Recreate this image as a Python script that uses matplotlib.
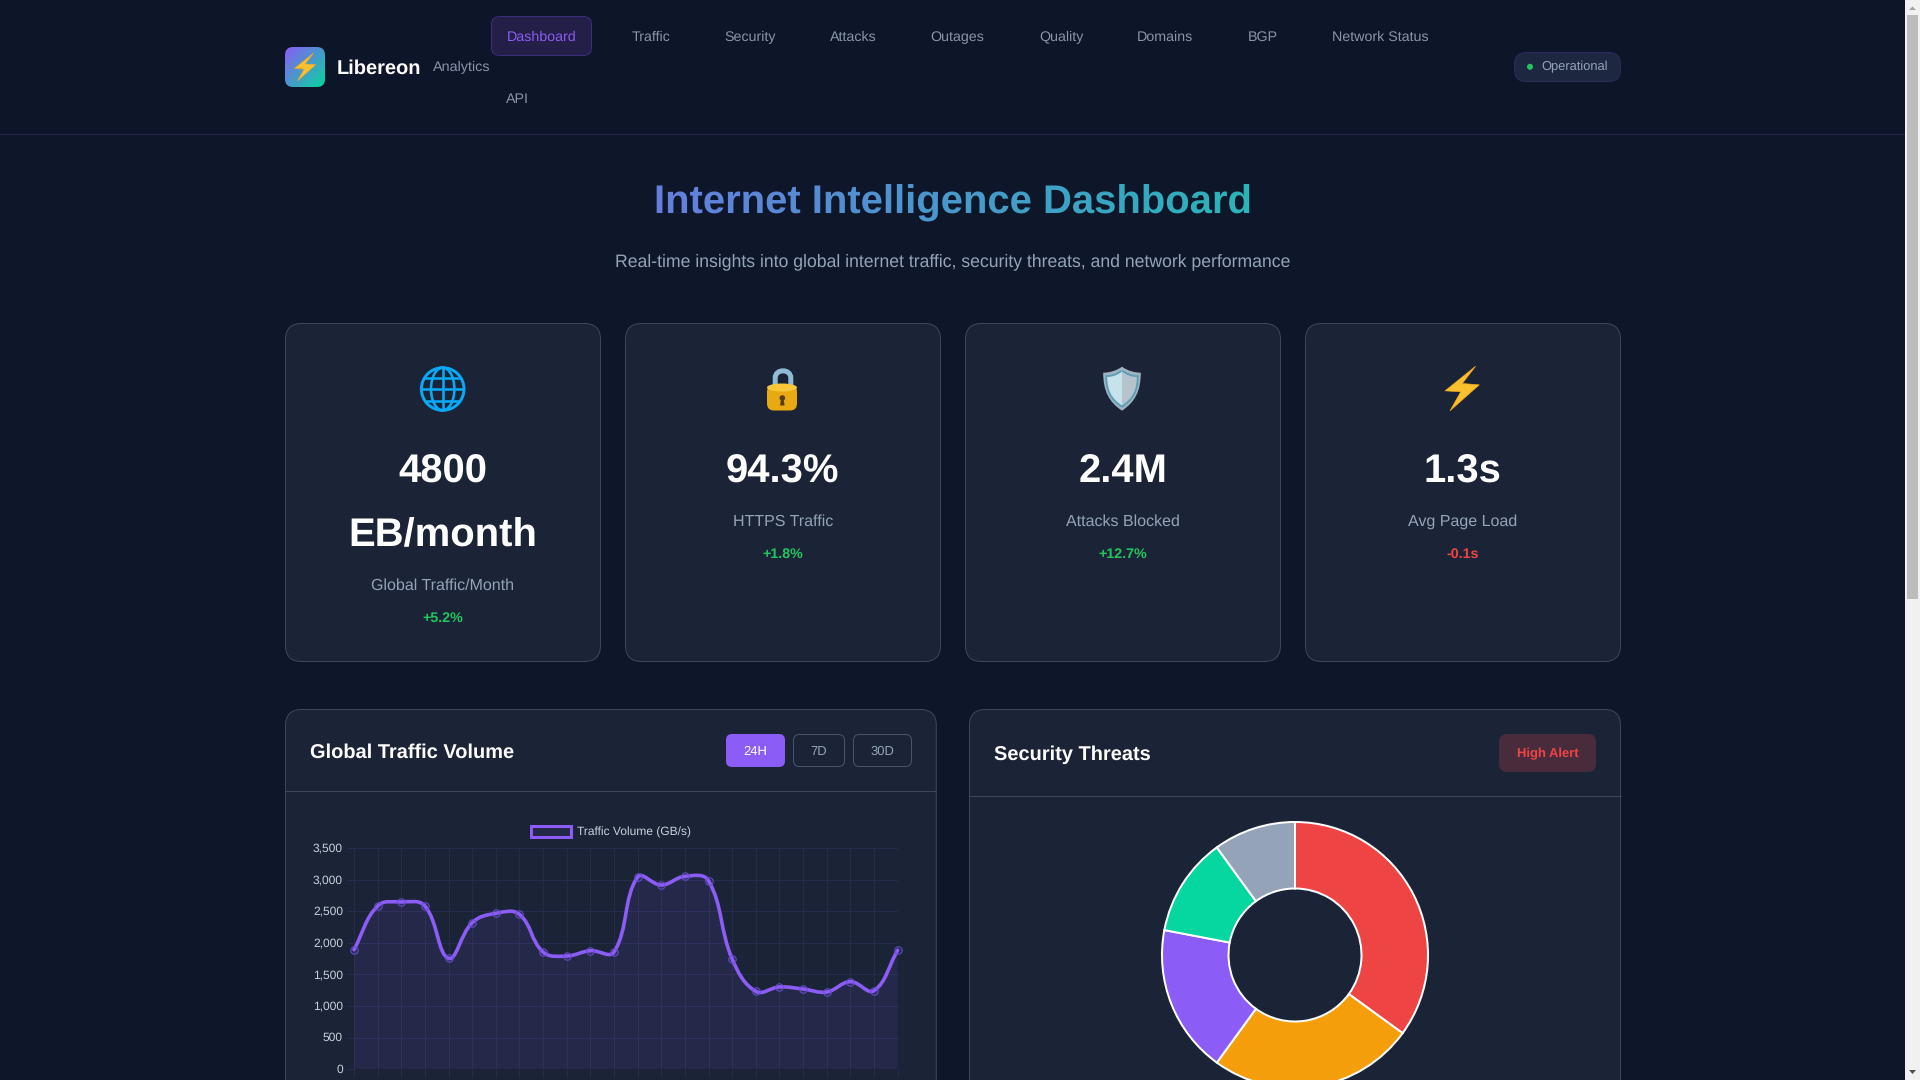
import numpy as np
import matplotlib
matplotlib.use("Agg")
import matplotlib.pyplot as plt
from matplotlib.patches import FancyBboxPatch, Rectangle, Circle, Ellipse, Polygon, PathPatch, Patch
from matplotlib.path import Path
from matplotlib.ticker import FuncFormatter
from matplotlib.transforms import ScaledTranslation

plt.rcParams['font.family'] = ['Liberation Sans', 'DejaVu Sans']
plt.rcParams['text.hinting'] = 'no_hinting'
plt.rcParams['text.hinting_factor'] = 8

# ---------- data ----------
nav_labels = ["Dashboard", "Traffic", "Security", "Attacks", "Outages", "Quality",
              "Domains", "BGP", "Network Status"]
kpi_values = ["4800\nEB/month", "94.3%", "2.4M", "1.3s"]
kpi_labels = ["Global Traffic/Month", "HTTPS Traffic", "Attacks Blocked", "Avg Page Load"]
kpi_deltas = ["+5.2%", "+1.8%", "+12.7%", "-0.1s"]
range_buttons = ["24H", "7D", "30D"]
traffic_values = [1892, 2583, 2646, 2583, 1755, 2319, 2467, 2451, 1855, 1792, 1876, 1855,
                  3041, 2915, 3052, 2983, 1745, 1233, 1302, 1270, 1223, 1386, 1244, 1882]
y_ticks = [0, 500, 1000, 1500, 2000, 2500, 3000, 3500]
threat_values = [35, 25, 18, 12, 10]
threat_colors = ["#ef4444", "#f59e0b", "#8b5cf6", "#06d6a0", "#94a3b8"]

# ---------- colours ----------
PAGE = "#0e172a"
HEADER = "#0d1629"
CARD = "#1a2436"
BORDER = "#3a485c"
MUTED = "#94a3b8"
NAV = "#8a94a8"
PURPLE = "#8b5cf6"
GRID = "#282a4c"

fig = plt.figure(figsize=(19.2, 10.8), dpi=100, facecolor=PAGE)
ui = fig.add_axes([0, 0, 1, 1], zorder=0)
ui.set_xlim(0, 1920)
ui.set_ylim(1080, 0)
ui.axis("off")


def px(v):
    return v * 0.72


def text(x, y, s, size, color, ha="center", weight="normal", **kw):
    """y is the visual centre of the capitals; baseline placed from it."""
    return ui.text(x, y + 0.35 * size, s, fontsize=px(size), color=color, ha=ha,
                   va="baseline", fontweight=weight, **kw)


def rbox(x0, y0, x1, y1, r, fc, ec="none", lw=1.0, z=1):
    p = FancyBboxPatch((x0 + r, y0 + r), x1 - x0 - 2 * r, y1 - y0 - 2 * r,
                       boxstyle=f"round,pad={r},rounding_size={r}",
                       fc=fc, ec=ec, lw=px(lw), zorder=z)
    ui.add_patch(p)
    return p


# ---------- header ----------
ui.add_patch(Rectangle((0, 0), 1920, 134, fc=HEADER, ec="none", zorder=0))
ui.plot([0, 1905], [133.6, 133.6], color="#262447", lw=px(1), zorder=1)

logo = rbox(285, 47, 325, 87, 8, "none")
grad = np.linspace(0, 1, 64)
gx, gy = np.meshgrid(grad, grad)
t = (gx + gy) / 2
c0, c1 = np.array([0x8b, 0x5c, 0xf6]) / 255, np.array([0x06, 0xd6, 0xa0]) / 255
img = c0[None, None, :] * (1 - t[..., None]) + c1[None, None, :] * t[..., None]
im = ui.imshow(img, extent=(285, 325, 87, 47), aspect="auto", zorder=2, interpolation="bilinear")
im.set_clip_path(logo)
ui.set_xlim(0, 1920)
ui.set_ylim(1080, 0)


def bolt(cx, cy, s, z=3):
    pts = np.array([(137, 18), (97, 70), (148, 74), (60, 152), (92, 95), (45, 92)], float)
    pts = (pts - np.array([96, 85])) / 3 * s
    pts += np.array([cx, cy])
    ui.add_patch(Polygon(pts, closed=True, fc="#fbc02d", ec="#f5a623", lw=px(0.6), zorder=z))


bolt(305, 67, 0.62)
text(336.5, 66.6, "Libereon", 20, "#ffffff", ha="left", weight="bold", zorder=3)
text(433, 66, "Analytics", 14.4, NAV, ha="left", zorder=3)

rbox(491.5, 16.5, 591.5, 55.5, 8, "#231f47", "#3b2d78", 1, z=2)
nav_x = [541.3, 650.7, 749.7, 853.3, 957.6, 1061, 1165, 1262.7, 1380]
for name, x in zip(nav_labels, nav_x):
    text(x, 36, name, 14.2, PURPLE if name == "Dashboard" else NAV, zorder=3)
text(505.5, 98, "API", 14.2, NAV, ha="left", zorder=3)

rbox(1514.5, 52.5, 1620.5, 81.5, 12, "#1e2740", "#2f2a5c", 1, z=2)
ui.add_patch(Circle((1530, 66.8), 3, fc="#22c55e", ec="none", zorder=3))
text(1541.2, 66.2, "Operational", 12.9, MUTED, ha="left", zorder=3)


# ---------- title with a horizontal gradient over the content width ----------
def gradient_filter(image, dpi):
    h, w = image.shape[:2]
    x0 = 952.5 - w / 2
    f = np.clip((x0 + np.arange(w) - 285) / (1620 - 285), 0, 1)[None, :, None]
    out = image.copy()
    out[..., :3] = (c0[None, None, :] * (1 - f) + c1[None, None, :] * f)
    return out, 0, 0


ttl = text(952.5, 199.5, "Internet Intelligence Dashboard", 40, "#ffffff", weight="bold", zorder=3)
ttl.set_agg_filter(gradient_filter)
text(952.5, 260.5, "Real-time insights into global internet traffic, security threats, and network performance",
     17.6, MUTED, zorder=3)

# ---------- KPI cards ----------
card_x = [(285.5, 600.5), (625.5, 940.5), (965.5, 1280.5), (1305.5, 1620.5)]
for (x0, x1), v, l, d in zip(card_x, kpi_values, kpi_labels, kpi_deltas):
    rbox(x0, 323.5, x1, 661.5, 16, CARD, BORDER, 1, z=1)
    cx = (x0 + x1) / 2 - 0.3
    lines = v.split("\n")
    y = 468.5
    for ln in lines:
        text(cx, y, ln, 40, "#ffffff", weight="bold", zorder=3)
        y += 63.5
    y = 520.2 if len(lines) == 1 else 584.2
    text(cx, y, l, 16, MUTED, zorder=3)
    text(cx, y + 32.5, d, 14.2, "#ef4444" if d.startswith("-") else "#22c55e", weight="bold", zorder=3)

# globe icon
gc_, gy_, gr = 442.7, 389, 21.3
BLUE = "#0aa8f5"
disc = Circle((gc_, gy_), gr, fc="none", ec="none", zorder=3)
ui.add_patch(disc)
ui.add_patch(Circle((gc_, gy_), gr, fc="none", ec=BLUE, lw=px(3), zorder=4))
ui.add_patch(Ellipse((gc_, gy_), gr * 1.1, gr * 2, fc="none", ec=BLUE, lw=px(2.6), zorder=4))
for art in [ui.plot([gc_, gc_], [gy_ - gr, gy_ + gr], color=BLUE, lw=px(2.6), zorder=4)[0],
            ui.plot([gc_ - gr, gc_ + gr], [gy_, gy_], color=BLUE, lw=px(2.6), zorder=4)[0],
            ui.plot([gc_ - gr, gc_ + gr], [gy_ - 11.5, gy_ - 11.5], color=BLUE, lw=px(2.6), zorder=4)[0],
            ui.plot([gc_ - gr, gc_ + gr], [gy_ + 11.5, gy_ + 11.5], color=BLUE, lw=px(2.6), zorder=4)[0]]:
    art.set_clip_path(disc)

# padlock icon
sh = Path([(775.2, 388), (775.2, 378), (775.2, 368.4), (790.8, 368.4), (790.8, 378), (790.8, 388)],
          [Path.MOVETO, Path.LINETO, Path.CURVE4, Path.CURVE4, Path.CURVE4, Path.LINETO])
ui.add_patch(PathPatch(sh, fc="none", ec="#8fbcd2", lw=px(5), capstyle="butt", zorder=3))
rbox(767, 385, 797, 410.5, 7, "#e8a913", z=4)
ui.add_patch(Ellipse((782, 387.5), 30, 8, fc="#f8c73a", ec="none", zorder=5))
ui.add_patch(Circle((782.3, 398), 2.8, fc="#5a3a12", ec="none", zorder=6))
ui.add_patch(Polygon([(781, 399), (783.6, 399), (784.6, 405.5), (780, 405.5)], closed=True,
                     fc="#5a3a12", ec="none", zorder=6))


# shield icon
def shield(cx, top, hw, bot, sh_dy, side=0):
    left = [(cx, top), (cx - hw * 0.3, top + sh_dy * 0.7), (cx - hw * 0.7, top + sh_dy),
            (cx - hw, top + sh_dy), (cx - hw, top + (bot - top) * 0.55), (cx - hw * 0.7, bot - (bot - top) * 0.2),
            (cx, bot)]
    mirrored = [(2 * cx - a, b) for a, b in left]
    codes = [Path.MOVETO] + [Path.CURVE4] * 6
    if side < 0:
        return Path(left + [(cx, top)], codes + [Path.LINETO])
    if side > 0:
        return Path(mirrored + [(cx, top)], codes + [Path.LINETO])
    return Path(left + mirrored[::-1][1:], codes + [Path.CURVE4] * 6)


ui.add_patch(PathPatch(shield(1122, 366.7, 18.8, 410.7, 6), fc="#9db3bf", ec="none", zorder=3))
ui.add_patch(PathPatch(shield(1122, 371.5, 14.8, 405.5, 5.5), fc="none", ec="#5b9db5", lw=px(3.6), zorder=4))
ui.add_patch(PathPatch(shield(1122, 371.5, 14.8, 405.5, 5.5, -1), fc="#c6e2ea", ec="none", zorder=4))
ui.add_patch(PathPatch(shield(1122, 371.5, 14.8, 405.5, 5.5, 1), fc="#b4c3cc", ec="none", zorder=4))

bolt(1462, 388.5, 1.0)

# ---------- chart cards ----------
rbox(285.5, 709.5, 936.3, 1300, 16, CARD, BORDER, 1, z=1)
ui.plot([285.5, 936.3], [790.6, 790.6], color=BORDER, lw=px(1), zorder=2)
text(310, 750.7, "Global Traffic Volume", 20, "#ffffff", ha="left", weight="bold", zorder=3)

btn_x = [(726, 785), (793.5, 844.5), (853.5, 911.5)]
for i, (name, (x0, x1)) in enumerate(zip(range_buttons, btn_x)):
    if i == 0:
        rbox(x0, 734, x1, 767, 6, PURPLE, z=2)
    else:
        rbox(x0, 734.5, x1, 766.5, 6, "none", "#465569", 1, z=2)
    text((x0 + x1) / 2, 750.2, name, 13, "#ffffff" if i == 0 else MUTED, zorder=3)

rbox(969.5, 709.5, 1620.5, 1300, 16, CARD, BORDER, 1, z=1)
ui.plot([969.5, 1620.5], [795.6, 795.6], color=BORDER, lw=px(1), zorder=2)
text(994, 752.7, "Security Threats", 20, "#ffffff", ha="left", weight="bold", zorder=3)
rbox(1499, 734, 1596, 772, 8, "#482c3b", z=2)
text(1547.5, 752.5, "High Alert", 13, "#ef4444", weight="bold", zorder=3)

# ---------- scrollbar ----------
ui.add_patch(Rectangle((1905, 0), 15, 1080, fc="#f1f1f1", ec="none", zorder=6))
ui.add_patch(Rectangle((1907, 15), 11, 584, fc="#bcbcbc", ec="none", zorder=7))
ui.add_patch(Polygon([(1909, 10), (1916, 10), (1912.5, 6.5)], closed=True, fc="#a3a3a3", ec="none", zorder=7))
ui.add_patch(Polygon([(1909, 1070), (1916, 1070), (1912.5, 1074)], closed=True, fc="#505050", ec="none", zorder=7))

# ---------- line chart ----------
ax = fig.add_axes([354 / 1920, (1080 - 1069.3) / 1080, 543.6 / 1920, 221.3 / 1080], zorder=2)
ax.patch.set_alpha(0)
ax.set_xlim(0, len(traffic_values) - 1)
ax.set_ylim(0, 3500)
xs = np.arange(len(traffic_values))
ax.set_xticks(xs)
ax.set_xticklabels([])
ax.set_yticks(y_ticks)
ax.yaxis.set_major_formatter(FuncFormatter(lambda v, _: f"{int(v):,}"))
ax.tick_params(axis="both", length=px(8), width=px(1), color=GRID, labelcolor="#c8d0dc",
               labelsize=px(12), pad=px(3))
ax.grid(True, color=GRID, lw=px(1))
ax.set_axisbelow(True)
for s in ax.spines.values():
    s.set_visible(False)
up = ScaledTranslation(0, 0.8 / 100, fig.dpi_scale_trans)
for lbl in ax.get_yticklabels():
    lbl.set_transform(lbl.get_transform() + up)


def spline_path(x, y, axes, tension=0.4):
    """Chart.js-style Bezier through the points, computed in pixel space."""
    pts = axes.transData.transform(np.column_stack([x, y]))
    verts = [pts[0]]
    prev_cp = []
    next_cp = []
    n = len(pts)
    for i in range(n):
        a, b, c = pts[max(i - 1, 0)], pts[i], pts[min(i + 1, n - 1)]
        d01, d12 = np.hypot(*(b - a)), np.hypot(*(c - b))
        tot = d01 + d12
        s01, s12 = d01 / tot, d12 / tot
        prev_cp.append(b - tension * s01 * (c - a))
        next_cp.append(b + tension * s12 * (c - a))
    for i in range(n - 1):
        verts += [next_cp[i], prev_cp[i + 1], pts[i + 1]]
    verts = axes.transData.inverted().transform(np.array(verts))
    return verts, [Path.MOVETO] + [Path.CURVE4] * (len(verts) - 1)


v, c = spline_path(xs, traffic_values, ax)
fv = np.vstack([v, [[xs[-1], 0], [xs[0], 0], v[0]]])
fc_ = list(c) + [Path.LINETO, Path.LINETO, Path.CLOSEPOLY]
ax.add_patch(PathPatch(Path(fv, fc_), fc=PURPLE, alpha=0.1, ec="none", zorder=3))
ax.add_patch(PathPatch(Path(v, c), fc="none", ec=PURPLE, lw=px(3.6), zorder=4, clip_on=False,
                       capstyle="round", joinstyle="round"))
ax.plot(xs, traffic_values, ls="none", marker="o", ms=px(7.5), mfc=(139 / 255, 92 / 255, 246 / 255, 0.12),
        mec=(0.40, 0.30, 0.80, 1.0), mew=px(1), zorder=5, clip_on=False)

leg = ax.legend(handles=[Patch(fc=(139 / 255, 92 / 255, 246 / 255, 0.1), ec=PURPLE, lw=px(3),
                               label="Traffic Volume (GB/s)")],
                loc="center", bbox_to_anchor=(611 / 1920, 1 - 832 / 1080), bbox_transform=fig.transFigure,
                frameon=False, fontsize=px(12), labelcolor="#c8d0dc", handlelength=40 / 12, handleheight=1.0,
                handletextpad=6.5 / 12, borderpad=0, borderaxespad=0)

# ---------- donut ----------
R = 133
da = fig.add_axes([(1295 - R) / 1920, (1080 - 955 - R) / 1080, 2 * R / 1920, 2 * R / 1080], zorder=2)
da.pie(threat_values, colors=threat_colors, startangle=90, counterclock=False, radius=1.0,
       wedgeprops=dict(width=0.5, edgecolor="#ffffff", linewidth=px(2)))
da.set_xlim(-1, 1)
da.set_ylim(-1, 1)
da.set_aspect("auto")
da.axis("off")
for w in da.patches:
    w.set_clip_on(False)

fig.savefig("out.png", dpi=100, facecolor=fig.get_facecolor())
